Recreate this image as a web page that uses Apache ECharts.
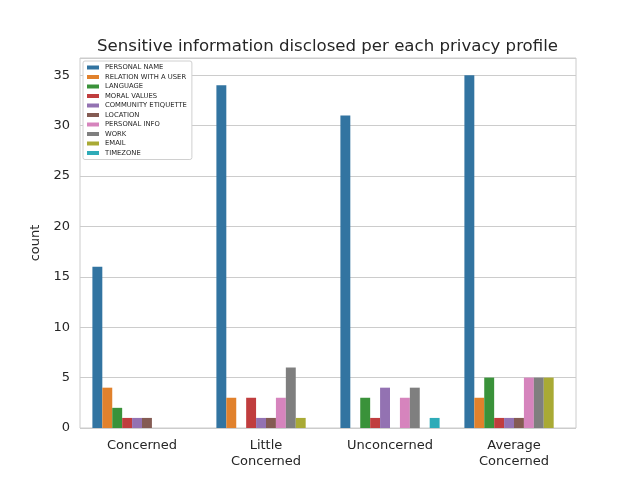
<!DOCTYPE html>
<html>
<head>
<meta charset="utf-8">
<script src="https://cdn.jsdelivr.net/npm/echarts@6/dist/echarts.min.js"></script>
<style>html,body{margin:0;padding:0;background:#fff;}#c{width:640px;height:480px;}</style>
</head>
<body>
<div id="c"></div>
<script>
const categories = ["Concerned", "Little\nConcerned", "Unconcerned", "Average\nConcerned"];
const seriesNames = ["PERSONAL NAME", "RELATION WITH A USER", "LANGUAGE", "MORAL VALUES", "COMMUNITY ETIQUETTE", "LOCATION", "PERSONAL INFO", "WORK", "EMAIL", "TIMEZONE"];
const personalName = [16, 34, 31, 35];
const relationWithUser = [4, 3, 0, 3];
const language = [2, 0, 3, 5];
const moralValues = [1, 3, 1, 1];
const communityEtiquette = [1, 1, 4, 1];
const locationCounts = [1, 1, 0, 1];
const personalInfo = [0, 3, 3, 5];
const work = [0, 6, 4, 5];
const email = [0, 1, 0, 5];
const timezone = [0, 0, 1, 0];
const colors = ["#3274a1", "#e1812c", "#3a923a", "#c03d3e", "#9372b2", "#845b53", "#d684bd", "#7f7f7f", "#a9aa35", "#2eabb8"];
const values = [personalName, relationWithUser, language, moralValues, communityEtiquette, locationCounts, personalInfo, work, email, timezone];

const chart = echarts.init(document.getElementById('c'));
chart.setOption({
  animation: false,
  backgroundColor: '#fff',
  title: {
    text: 'Sensitive information disclosed per each privacy profile',
    left: 92, top: 33,
    textStyle: {fontFamily: 'DejaVu Sans', fontSize: 16.6, fontWeight: 'normal', color: '#262626'}
  },
  legend: {
    orient: 'vertical', left: 83, top: 61,
    data: seriesNames,
    itemWidth: 12, itemHeight: 4, itemGap: 1.5,
    padding: [2.5, 5, 2.5, 4],
    backgroundColor: '#fff', borderColor: '#d0d0d0', borderWidth: 1, borderRadius: 2,
    textStyle: {fontFamily: 'DejaVu Sans', fontSize: 6.8, lineHeight: 8, color: '#262626', padding: [0,0,0,1]},
    icon: 'rect'
  },
  grid: {left: 80, right: 64, top: 58, bottom: 52, show: true, borderColor: '#cccccc', borderWidth: 1},
  xAxis: {
    type: 'category', data: categories,
    axisLine: {show: false}, axisTick: {show: false},
    axisLabel: {fontFamily: 'DejaVu Sans', fontSize: 13, color: '#262626', margin: 10, lineHeight: 16}
  },
  yAxis: {
    type: 'value', min: 0, max: 36.7, interval: 5,
    name: 'count', nameLocation: 'middle', nameGap: 26,
    nameTextStyle: {fontFamily: 'DejaVu Sans', fontSize: 13, color: '#262626'},
    axisLine: {show: false}, axisTick: {show: false},
    splitLine: {lineStyle: {color: '#cccccc', width: 1}},
    axisLabel: {fontFamily: 'DejaVu Sans', fontSize: 13, color: '#262626', margin: 10,
      showMaxLabel: false}
  },
  series: seriesNames.map((n, i) => ({
    name: n, type: 'bar', data: values[i],
    barGap: '0%', barCategoryGap: '20%',
    itemStyle: {color: colors[i]}
  }))
});
</script>
</body>
</html>
